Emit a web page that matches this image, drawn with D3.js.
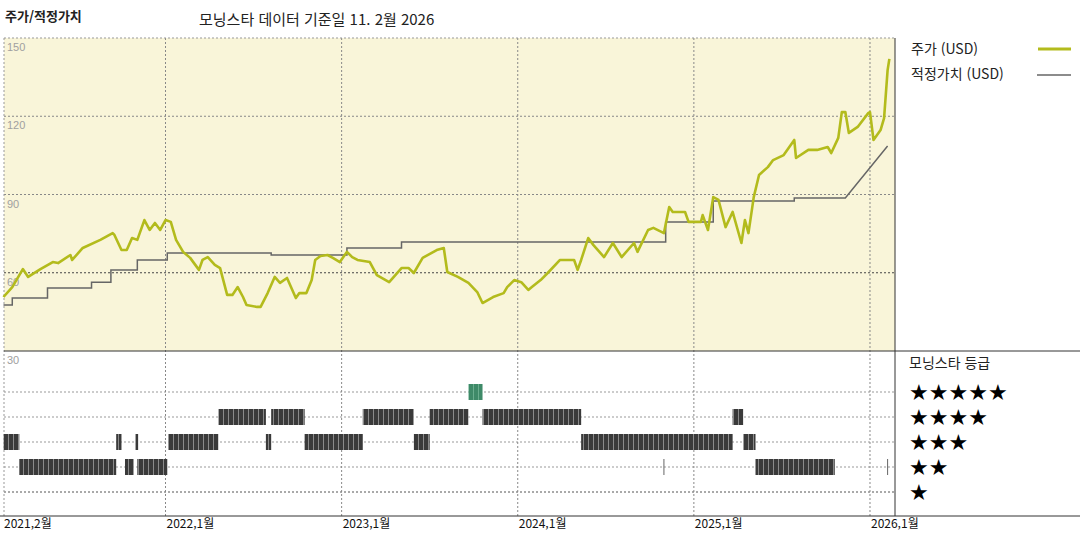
<!DOCTYPE html>
<html lang="ko">
<head>
<meta charset="UTF-8">
<title>주가/적정가치</title>
<script src="https://d3js.org/d3.v7.min.js"></script>
<style>
  body { margin: 0; background: #fff; }
  svg { font-family: "Noto Sans CJK KR", "Noto Sans", sans-serif; }
</style>
</head>
<body>
<script>
// price: [fractional year, USD]
const priceYears = [2021.08,2021.13,2021.19,2021.22,2021.29,2021.36,2021.39,2021.46,2021.47,2021.53,2021.63,2021.70,2021.71,2021.75,2021.78,2021.81,2021.84,2021.88,2021.91,2021.94,2021.97,2022.00,2022.03,2022.06,2022.10,2022.14,2022.19,2022.21,2022.24,2022.28,2022.31,2022.35,2022.38,2022.41,2022.44,2022.46,2022.52,2022.54,2022.58,2022.62,2022.65,2022.69,2022.72,2022.74,2022.76,2022.80,2022.83,2022.85,2022.88,2022.92,2022.95,2022.99,2023.03,2023.06,2023.09,2023.16,2023.20,2023.27,2023.34,2023.38,2023.41,2023.46,2023.54,2023.58,2023.60,2023.66,2023.72,2023.77,2023.80,2023.86,2023.92,2023.94,2023.98,2024.02,2024.06,2024.08,2024.13,2024.17,2024.24,2024.32,2024.34,2024.36,2024.40,2024.43,2024.49,2024.54,2024.59,2024.66,2024.68,2024.74,2024.77,2024.83,2024.86,2024.88,2024.95,2024.97,2025.04,2025.05,2025.08,2025.11,2025.14,2025.18,2025.22,2025.27,2025.29,2025.31,2025.34,2025.37,2025.42,2025.45,2025.51,2025.57,2025.58,2025.65,2025.70,2025.76,2025.78,2025.82,2025.84,2025.86,2025.88,2025.93,2025.99,2026.00,2026.02,2026.06,2026.08,2026.10,2026.11];
const priceValues = [50.7,54.5,61.4,58.4,61.4,64.1,63.7,66.8,64.9,69.5,72.6,75.2,74.5,68.7,68.7,73.3,72.6,80.2,76.4,79.1,76.4,80.2,79.5,72.6,68.0,65.7,61.1,64.9,66.0,63.0,61.8,51.5,51.5,54.5,50.7,47.6,46.9,46.9,52.2,58.4,56.1,58.0,53.4,50.3,52.2,52.2,57.2,64.9,66.4,66.8,65.7,64.1,68.0,66.0,64.9,64.1,59.1,56.4,61.8,61.8,59.9,65.7,68.7,69.5,60.3,58.4,56.1,52.6,48.4,50.7,52.2,54.5,57.2,56.4,53.4,54.5,57.2,59.9,64.9,64.9,61.1,64.9,73.3,70.6,66.0,71.4,66.0,71.4,68.0,76.4,77.2,75.2,85.2,83.3,83.3,79.5,79.5,82.1,76.4,89.0,87.9,77.5,83.3,71.4,80.2,75.2,89.0,97.5,100.5,103.2,105.1,110.9,104.0,107.1,107.1,108.2,105.9,111.7,121.6,121.6,113.6,115.9,121.2,121.6,110.9,114.7,119.3,137.7,142.0];

// fair value steps (last point is reached linearly)
const fairYears = [2021.08,2021.13,2021.33,2021.58,2021.69,2021.84,2022.01,2022.60,2023.03,2023.34,2024.84,2025.11,2025.57,2025.86,2026.10];
const fairValues = [47.6,50.3,54.2,56.4,61.1,64.9,67.6,66.8,69.5,71.8,79.5,87.5,88.7,88.7,108.6];

// Morningstar rating segments
const ratingStart = [2021.08,2021.17,2021.72,2021.77,2021.83,2021.84,2022.015,2022.30,2022.57,2022.60,2022.79,2023.12,2023.41,2023.50,2023.72,2023.80,2024.36,2025.22,2025.28,2025.35];
const ratingEnd   = [2021.17,2021.72,2021.75,2021.82,2021.845,2022.01,2022.30,2022.57,2022.60,2022.79,2023.12,2023.41,2023.50,2023.72,2023.80,2024.36,2025.22,2025.28,2025.35,2025.80];
const ratingStars = [3,2,3,2,3,2,3,4,3,4,3,4,3,4,5,4,3,4,3,2];
const ratingTicks = [[2024.83,2],[2026.10,2]];

const priceTicks = [150,120,90,60,30];
const yearTicks = [2021.083,2022,2023,2024,2025,2026];
const yearLabels = ["2021,2월","2022,1월","2023,1월","2024,1월","2025,1월","2026,1월"];

const W = 1080, H = 540;
const pLeft = 4, pRight = 895, pTop = 38, pMid = 351, pBottom = 516;

const svg = d3.select("body").append("svg").attr("width", W).attr("height", H);

const x = d3.scaleLinear().domain([2021.083, 2026.142]).range([pLeft, pRight]);
const y = d3.scaleLinear().domain([30, 150]).range([pMid, pTop]);
const yr = d3.scaleLinear().domain([1, 5]).range([492, 392]);

// stripe pattern for rating bars
const defs = svg.append("defs");
const pat = defs.append("pattern").attr("id", "stripes").attr("patternUnits", "userSpaceOnUse")
  .attr("width", 5).attr("height", 10);
pat.append("rect").attr("width", 5).attr("height", 10).attr("fill", "#3a3a3a");
pat.append("rect").attr("x", 3).attr("width", 1).attr("height", 10).attr("fill", "#8a8a8a");
const patG = defs.append("pattern").attr("id", "stripesG").attr("patternUnits", "userSpaceOnUse")
  .attr("width", 5).attr("height", 10);
patG.append("rect").attr("width", 5).attr("height", 10).attr("fill", "#3e8a68");
patG.append("rect").attr("x", 3).attr("width", 1).attr("height", 10).attr("fill", "#6aae8e");

// background
svg.append("rect").attr("x", pLeft).attr("y", pTop).attr("width", pRight - pLeft).attr("height", pMid - pTop)
  .attr("fill", "#f9f5d9");

// titles
svg.append("text").attr("x", 5).attr("y", 21).attr("font-size", 13).attr("font-weight", "bold")
  .attr("fill", "#222").text("주가/적정가치");
svg.append("text").attr("x", 199).attr("y", 25).attr("font-size", 15).attr("fill", "#222")
  .text("모닝스타 데이터 기준일 11. 2월 2026");

// grid
const grid = svg.append("g").attr("stroke-dasharray", "2,2").attr("fill", "none");
priceTicks.slice(1, 4).forEach(v => {
  grid.append("line").attr("x1", pLeft).attr("x2", pRight).attr("y1", y(v)).attr("y2", y(v))
    .attr("stroke", v === 60 ? "#444" : "#888");
});
[1, 2, 3, 4, 5].forEach(s => {
  grid.append("line").attr("x1", pLeft).attr("x2", pRight).attr("y1", yr(s)).attr("y2", yr(s))
    .attr("stroke", s === 1 ? "#555" : "#999");
});
yearTicks.slice(1).forEach(t => {
  grid.append("line").attr("x1", x(t)).attr("x2", x(t)).attr("y1", pTop).attr("y2", pBottom)
    .attr("stroke", "#888");
});
grid.append("line").attr("x1", pLeft).attr("x2", pLeft).attr("y1", pTop).attr("y2", pBottom).attr("stroke", "#999");
grid.append("line").attr("x1", pLeft).attr("x2", pRight).attr("y1", pTop).attr("y2", pTop).attr("stroke", "#999");

// price tick labels
priceTicks.forEach(v => {
  svg.append("text").attr("x", 7).attr("y", y(v) + 13).attr("font-size", 11)
    .attr("fill", "#a0a0a0").attr("font-family", "Liberation Sans, Arial").text(v);
});

// fair value line
const fairPts = [];
fairYears.forEach((t, i) => {
  if (i === 0 || i === fairYears.length - 1) fairPts.push([t, fairValues[i]]);
  else { fairPts.push([t, fairValues[i - 1]]); fairPts.push([t, fairValues[i]]); }
});
const line = d3.line().x(d => x(d[0])).y(d => y(d[1]));
svg.append("path").datum(fairPts).attr("d", line).attr("fill", "none")
  .attr("stroke", "#666").attr("stroke-width", 1.5);

// price line
const pricePts = priceYears.map((t, i) => [t, priceValues[i]]);
svg.append("path").datum(pricePts).attr("d", line).attr("fill", "none")
  .attr("stroke", "#b3bb1c").attr("stroke-width", 2.6).attr("stroke-linejoin", "round");

// rating bars
ratingStart.forEach((s, i) => {
  svg.append("rect").attr("x", x(s)).attr("y", yr(ratingStars[i]) - 8)
    .attr("width", Math.max(1.5, x(ratingEnd[i]) - x(s))).attr("height", 16)
    .attr("fill", ratingStars[i] === 5 ? "url(#stripesG)" : "url(#stripes)");
});
ratingTicks.forEach(d => {
  svg.append("line").attr("x1", x(d[0])).attr("x2", x(d[0]))
    .attr("y1", yr(d[1]) - 8).attr("y2", yr(d[1]) + 8).attr("stroke", "#666");
});

// frame lines
svg.append("line").attr("x1", pLeft).attr("x2", W).attr("y1", pMid).attr("y2", pMid).attr("stroke", "#333");
svg.append("line").attr("x1", 0).attr("x2", W).attr("y1", pBottom).attr("y2", pBottom).attr("stroke", "#333");
svg.append("line").attr("x1", pRight).attr("x2", pRight).attr("y1", pTop).attr("y2", pBottom).attr("stroke", "#333");

// x labels
yearTicks.forEach((t, i) => {
  svg.append("text").attr("x", x(t) + (i === 0 ? 0 : 1)).attr("y", 528).attr("font-size", 12)
    .attr("fill", "#111").text(yearLabels[i]);
});

// legend
svg.append("text").attr("x", 911).attr("y", 54).attr("font-size", 14).attr("fill", "#222").text("주가 (USD)");
svg.append("line").attr("x1", 1038).attr("x2", 1071).attr("y1", 49).attr("y2", 49)
  .attr("stroke", "#b3bb1c").attr("stroke-width", 3);
svg.append("text").attr("x", 911).attr("y", 79).attr("font-size", 14).attr("fill", "#222").text("적정가치 (USD)");
svg.append("line").attr("x1", 1037).attr("x2", 1071).attr("y1", 75).attr("y2", 75)
  .attr("stroke", "#666").attr("stroke-width", 1.5);
svg.append("text").attr("x", 909).attr("y", 368).attr("font-size", 14).attr("fill", "#222").text("모닝스타 등급");
[5, 4, 3, 2, 1].forEach(s => {
  svg.append("text").attr("x", 909).attr("y", yr(s) + 8).attr("font-size", 22)
    .attr("font-family", "DejaVu Sans").attr("fill", "#000").text("★".repeat(s));
});
</script>
</body>
</html>
